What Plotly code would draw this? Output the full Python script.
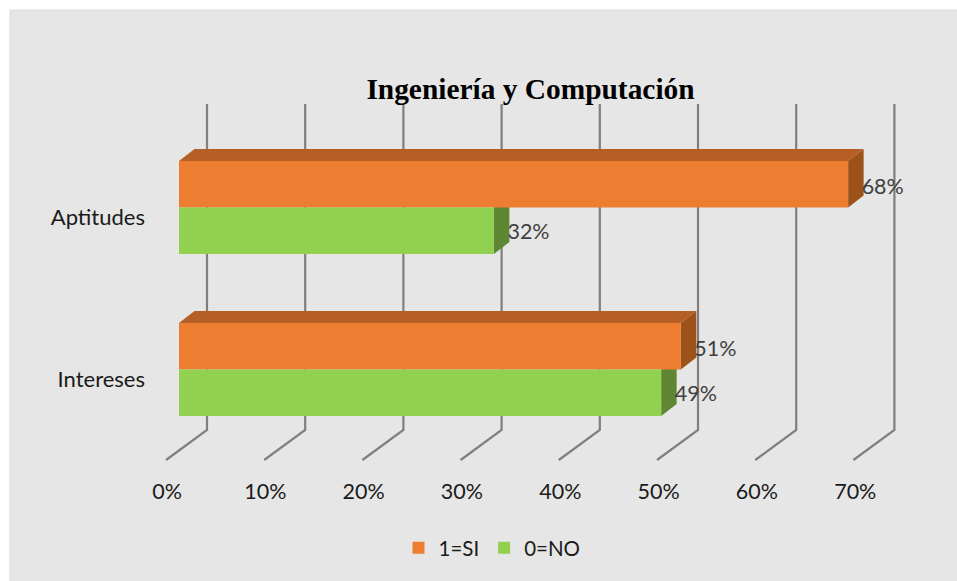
import plotly.graph_objects as go

# Data
categories = ["Intereses", "Aptitudes"]
si_values = [51, 68]
no_values = [49, 32]
x_ticks = [0, 10, 20, 30, 40, 50, 60, 70]
x_tick_labels = ["0%", "10%", "20%", "30%", "40%", "50%", "60%", "70%"]

# Style / geometry (axis units)
FONT = "Lato"
FS = 21.5
ORANGE, ORANGE_TOP, ORANGE_SIDE = "#ED7D31", "#B55F25", "#9C5219"
GREEN, GREEN_SIDE = "#92D050", "#5F8733"
GRID = "#827E7E"
PX_X, PX_Y = 9.84, 162.0
X0, Y0 = 179, 369.5
L, R, T, B = 146, 915, 90, 470
BAR_H = 46.5 / PX_Y
DX, DY = 15.5 / PX_X, 12 / PX_Y
positions = list(range(len(categories)))


def path(points):
    return "M" + " L".join(f"{x:.4f},{y:.4f}" for x, y in points) + " Z"


def open_path(points):
    return "M" + " L".join(f"{x:.4f},{y:.4f}" for x, y in points)


shapes = []
# Background panel
shapes.append(dict(type="rect", xref="paper", yref="paper",
                   x0=(10 - L) / (R - L), x1=(960 - L) / (R - L),
                   y0=(B - 585) / (B - T), y1=(B - 10) / (B - T),
                   fillcolor="#E6E6E6", line=dict(color="#DCDCDC", width=1), layer="below"))
# Walls
for t in x_ticks:
    bx = t * 0.998 + 28 / PX_X
    fx = t * 0.998 - 13 / PX_X
    shapes.append(dict(type="path", xref="x", yref="y", layer="below",
                       path=open_path([(fx, (Y0 - 460) / PX_Y), (bx, (Y0 - 430) / PX_Y), (bx, (Y0 - 104) / PX_Y)]),
                       line=dict(color=GRID, width=2.2)))
# 3D faces
for p, si, no in zip(positions, si_values, no_values):
    shapes.append(dict(type="path", xref="x", yref="y", layer="below", line=dict(width=0), fillcolor=GREEN_SIDE,
                       path=path([(no, p - BAR_H), (no, p), (no + DX, p + DY), (no + DX, p - BAR_H + DY)])))
    shapes.append(dict(type="path", xref="x", yref="y", layer="below", line=dict(width=0), fillcolor=ORANGE_TOP,
                       path=path([(0, p + BAR_H), (si, p + BAR_H), (si + DX, p + BAR_H + DY), (DX, p + BAR_H + DY)])))
    shapes.append(dict(type="path", xref="x", yref="y", layer="below", line=dict(width=0), fillcolor=ORANGE_SIDE,
                       path=path([(si, p), (si, p + BAR_H), (si + DX, p + BAR_H + DY), (si + DX, p + DY)])))

fig = go.Figure()
fig.add_bar(name="1=SI", orientation="h", y=positions, x=si_values, width=BAR_H, offset=0,
            marker=dict(color=ORANGE, line=dict(width=0)), hoverinfo="skip")
fig.add_bar(name="0=NO", orientation="h", y=positions, x=no_values, width=BAR_H, offset=-BAR_H,
            marker=dict(color=GREEN, line=dict(width=0)), hoverinfo="skip")
# Data labels
fig.add_scatter(x=[v + DX - 0.2 for v in si_values], y=[p + BAR_H / 2 - 4 / PX_Y for p in positions],
                mode="text", text=[f"{v}%" for v in si_values], textposition="middle right",
                textfont=dict(family=FONT, size=FS, color="#404040"), showlegend=False, hoverinfo="skip")
fig.add_scatter(x=[v + DX - 0.2 for v in no_values], y=[p - BAR_H / 2 - 3 / PX_Y for p in positions],
                mode="text", text=[f"{v}%" for v in no_values], textposition="middle right",
                textfont=dict(family=FONT, size=FS, color="#404040"), showlegend=False, hoverinfo="skip")

fig.update_layout(
    width=957, height=581, autosize=False,
    margin=dict(l=L, r=957 - R, t=T, b=581 - B, pad=0),
    paper_bgcolor="white", plot_bgcolor="rgba(0,0,0,0)",
    barmode="overlay", shapes=shapes,
    font=dict(family=FONT, size=FS, color="#1a1a1a"),
    title=dict(text="<b>Ingeniería y Computación</b>", x=(530.5) / 957, xanchor="center",
               y=1 - 89 / 581, yanchor="middle",
               font=dict(family="Liberation Serif", size=29.4, color="#000000")),
    legend=dict(orientation="h", x=(492 - L) / (R - L), xanchor="center", xref="paper", yref="paper",
                y=(B - 548) / (B - T), yanchor="middle", bgcolor="rgba(0,0,0,0)",
                font=dict(family=FONT, size=20.5, color="#1a1a1a")),
    xaxis=dict(range=[(L - X0) / PX_X, (R - X0) / PX_X], showgrid=False, zeroline=False, showline=False,
               tickmode="array", tickvals=[t * 0.9992 - 12 / PX_X for t in x_ticks], ticktext=x_tick_labels,
               ticks="", ticklabelstandoff=6),
    yaxis=dict(range=[(Y0 - B) / PX_Y, (Y0 - T) / PX_Y], showgrid=False, zeroline=False, showline=False,
               tickmode="array", tickvals=[p - 10 / PX_Y for p in positions], ticktext=categories, ticks="",
               tickfont=dict(family=FONT, size=22)),
)
fig.write_html("out.html", post_script="document.body.style.margin='0';", config={"displayModeBar": False})
